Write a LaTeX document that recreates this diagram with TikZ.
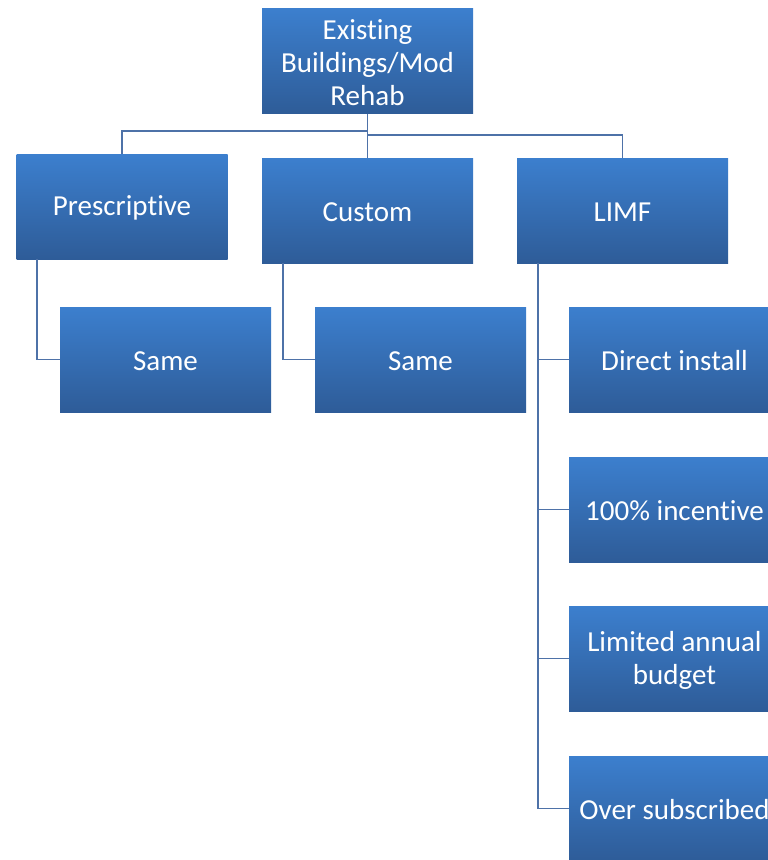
\documentclass[tikz,border=0pt]{standalone}
\usepackage{fontspec}
\setmainfont{Carlito}[Ligatures=NoCommon]
\definecolor{boxtop}{RGB}{60,127,206}
\definecolor{boxbot}{RGB}{46,92,152}
\definecolor{linec}{RGB}{78,114,168}
\tikzset{
  box/.style={rectangle, minimum width=211pt, minimum height=105pt, inner sep=2pt,
    top color=boxtop, bottom color=boxbot, draw=none, text=white, align=center,
    font=\fontsize{29}{33}\selectfont},
  lbl/.style={text=white, align=center, font=\fontsize{29}{33}\selectfont, inner sep=0pt},
  conn/.style={draw=linec, line width=1.7pt}
}
\begin{document}
\begin{tikzpicture}[x=1pt,y=-1pt]
\useasboundingbox (0,0) rectangle (768,860);
\clip (0,0) rectangle (768,860);
\node[box] (top) at (367.5,61) {};
\node[box] (pres) at (122,206.5) {};
\node[box] (cust) at (367.5,210.5) {};
\node[box] (limf) at (622.5,210.5) {};
\node[box] (same1) at (165.5,359.5) {};
\node[box] (same2) at (420.5,359.5) {};
\node[box] (di) at (674.5,359.5) {};
\node[box] (inc) at (674.5,509.5) {};
\node[box] (lim) at (674.5,658.5) {};
\node[box] (over) at (674.5,808.5) {};
\node[lbl] (ttop) at ([yshift=-1.5pt]top.center) {Existing\\Buildings/Mod\\Rehab};
\node[lbl] (tpres) at ([yshift=-1.5pt]pres.center) {Prescriptive};
\node[lbl] (tcust) at ([yshift=-1.5pt]cust.center) {Custom};
\node[lbl] (tlimf) at ([yshift=-1.5pt]limf.center) {LIMF};
\node[lbl] (tsame1) at ([yshift=-1.5pt]same1.center) {Same};
\node[lbl] (tsame2) at ([yshift=-1.5pt]same2.center) {Same};
\node[lbl] (tdi) at ([yshift=-1.5pt]di.center) {Direct install};
\node[lbl] (tinc) at ([yshift=-1.5pt]inc.center) {100\% incentive};
\node[lbl] (tlim) at ([yshift=-1.5pt]lim.center) {Limited annual\\budget};
\node[lbl] (tover) at ([yshift=-1.5pt]over.center) {Over subscribed};
\draw[conn] (top.south) -- (cust.north);
\draw[conn] (top.south) -- (top.south |- 0,131) -| (pres.north);
\draw[conn] (top.south |- 0,135) -| (limf.north);
\draw[conn] (pres.south -| 37,0) |- (same1.west);
\draw[conn] (cust.south -| 283,0) |- (same2.west);
\draw[conn] (limf.south -| 538,0) |- (over.west);
\draw[conn] (di.west -| 538,0) -- (di.west);
\draw[conn] (inc.west -| 538,0) -- (inc.west);
\draw[conn] (lim.west -| 538,0) -- (lim.west);
\end{tikzpicture}
\end{document}
